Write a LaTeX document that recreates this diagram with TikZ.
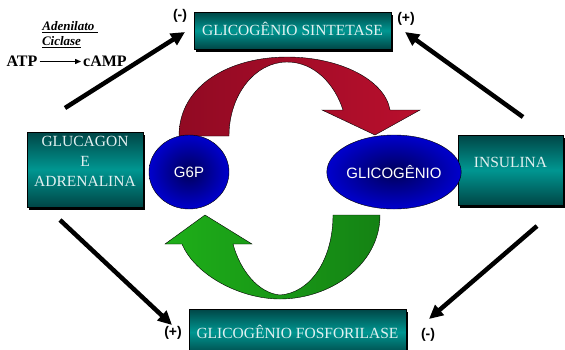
\documentclass[tikz,border=0pt]{standalone}
\usepackage{fontspec}
\setmainfont{Liberation Serif}
\setsansfont{Liberation Sans}
\usepackage{tikz}
\usetikzlibrary{arrows.meta, shadows, shapes.geometric}
\definecolor{tealdark}{RGB}{0,70,70}
\definecolor{tealmid}{RGB}{0,150,145}
\definecolor{navy}{RGB}{0,0,90}
\definecolor{bblue}{RGB}{0,0,205}
\definecolor{rdark}{RGB}{145,10,35}
\definecolor{rlight}{RGB}{185,15,45}
\definecolor{gbright}{RGB}{30,175,25}
\definecolor{gdark}{RGB}{20,130,20}
\definecolor{boxtext}{RGB}{225,240,240}

\begin{document}
\begin{tikzpicture}[x=1pt, y=-1pt, >={Triangle[length=14pt,width=13pt]},
         enzyme/.style={
         % The shape:
         rectangle, inner sep=0pt,
         % The filling
         top color=tealdark, bottom color=tealdark, middle color=tealmid,
         draw=black, thin,
         general shadow={fill=black, shadow xshift=1.5pt, shadow yshift=-3pt},
         % Font
         text=boxtext, align=center,
         font=\fontsize{15.5}{20}\selectfont},
         metab/.style={ellipse, inner sep=0pt, draw=black, thin,
         inner color=navy, outer color=bblue,
         text=white, font=\sffamily\fontsize{15}{16}\selectfont},
         sign/.style={font=\sffamily\bfseries\fontsize{14}{14}\selectfont}]
   \clip (0,0) rectangle (565,349);
   %% curved arrows
   \path[draw=black, thin, left color=rdark, right color=rlight]
      (179,136) .. controls (179,85) and (230,57) .. (287,57)
      .. controls (340,57) and (385,80) .. (390,110) -- (420,110) -- (375,135)
      -- (322,110) -- (343,110) .. controls (335,85) and (315,62) .. (287,62)
      .. controls (255,62) and (229,95) .. (229,136) -- cycle;
   \path[draw=black, thin, left color=gbright, right color=gdark]
      (380,215) .. controls (380,265) and (330,299) .. (280,299)
      .. controls (240,299) and (195,275) .. (182,244) -- (165,244) -- (205,215)
      -- (252,244) -- (233,244) .. controls (240,270) and (258,293) .. (280,295)
      .. controls (310,293) and (333,260) .. (333,215) -- cycle;
   %% boxes
   \node[enzyme, minimum width=197pt, minimum height=37pt, text depth=3pt] (sint) at (292.5,30.5) {GLICOGÊNIO SINTETASE};
   \node[enzyme, minimum width=116pt, minimum height=75pt, text depth=16pt] (gluc) at (85,169.5) {GLUCAGON\\E\\ADRENALINA};
   \node[enzyme, minimum width=105pt, minimum height=70pt, text depth=16pt] (insu) at (510.5,170) {INSULINA};
   \node[enzyme, minimum width=217pt, minimum height=46pt] (fosf) at (297.5,332) {GLICOGÊNIO FOSFORILASE};
   %% metabolites
   \node[metab, minimum width=80pt, minimum height=74pt] (g6p) at (189,172) {G6P};
   \node[metab, minimum width=108pt, minimum height=74pt] (glic) at (394,172) {GLICOGÊNIO};
   %% regulation
   \coordinate (g1) at (65,108);  \coordinate (s1) at (185,32);
   \coordinate (i1) at (523,117); \coordinate (s2) at (405,32);
   \coordinate (g2) at (60,220);  \coordinate (f1) at (172,325);
   \coordinate (i2) at (537,226); \coordinate (f2) at (429,319);
   \foreach \a/\b in {g1/s1, i1/s2, g2/f1, i2/f2}{
      \draw[->, line width=4.5pt] (\a) -- (\b);
   };
   \node[sign] (m1) at (180,16) {(-)};
   \node[sign] (p1) at (406,19) {(+)};
   \node[sign] (p2) at (173,333) {(+)};
   \node[sign] (m2) at (428,335) {(-)};
   %% adenilato ciclase
   \node[font=\bfseries\itshape\fontsize{13}{13}\selectfont] (aden) at (70,27.5) {\underline{Adenilato\ }};
   \node[font=\bfseries\itshape\fontsize{13}{13}\selectfont] (cicl) at (61.5,42) {\underline{Ciclase}};
   \node[font=\bfseries\fontsize{16}{16}\selectfont, inner sep=2pt] (atp) at (22,61.5) {ATP};
   \node[font=\bfseries\fontsize{16}{16}\selectfont, inner sep=2pt] (camp) at (105,61.5) {cAMP};
   \draw[-{Triangle[length=6pt,width=5pt]}, line width=1.3pt] (atp) -- (camp);
\end{tikzpicture}
\end{document}
